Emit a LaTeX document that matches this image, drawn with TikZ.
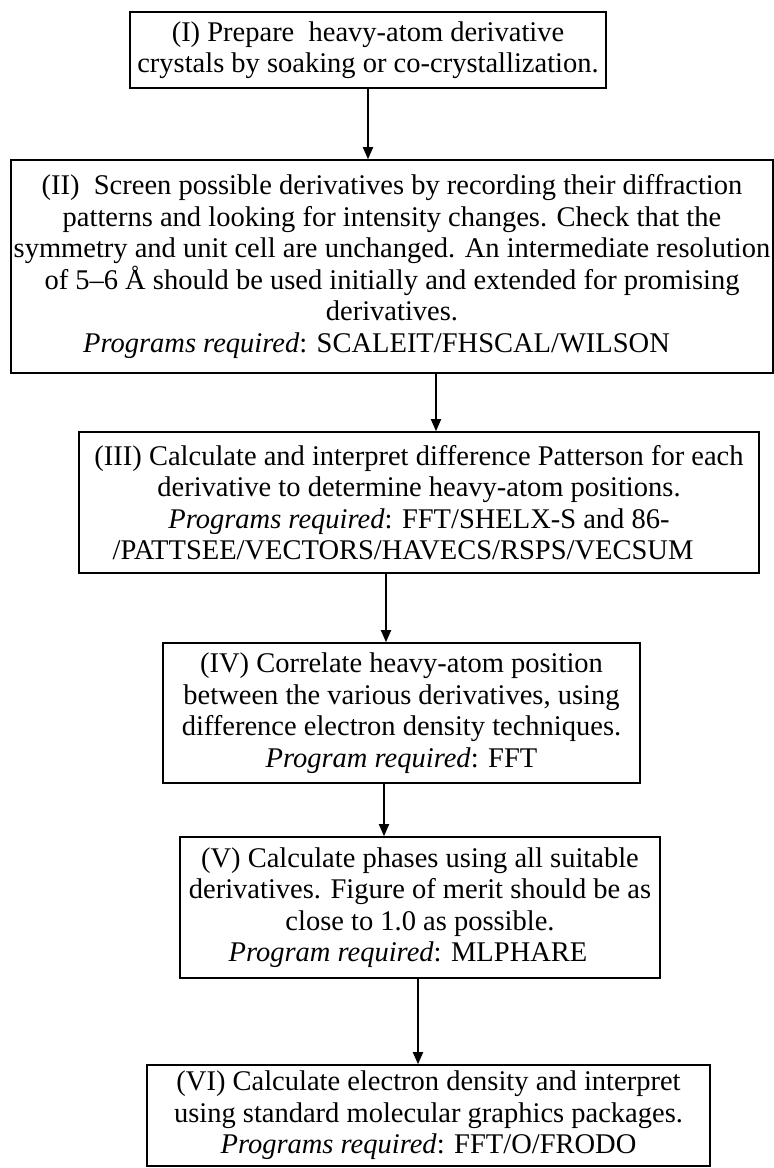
\documentclass[tikz,border=0pt]{standalone}
\usepackage{fontspec}
\setmainfont{Liberation Serif}
\usetikzlibrary{arrows.meta}
\begin{document}
\begin{tikzpicture}[x=1pt,y=1pt,
  box/.style={draw, line width=1.6pt, align=center, inner sep=0pt,
    font=\fontsize{28.5}{31.5}\selectfont},
  arr/.style={line width=1.8pt, -{Triangle[length=12pt,width=10pt]}}]
\useasboundingbox (0,0) rectangle (774,1168);

\node[box, minimum width=476pt, minimum height=76pt] (b1) at (368,1118)
  {(I) Prepare\ \ heavy-atom derivative\\crystals by soaking or co-crystallization.};

\node[box, minimum width=762pt, minimum height=213pt] (b2) at (392,901.5)
  {(II)\ \ Screen possible derivatives by recording their diffraction\\
   patterns and looking for intensity changes. Check that the\\
   symmetry and unit cell are unchanged. An intermediate resolution\\
   of 5–6 Å should be used initially and extended for promising\\
   derivatives.\\
   \textit{Programs required}: SCALEIT/FHSCAL/WILSON\rule{31pt}{0pt}};

\node[box, minimum width=680pt, minimum height=141pt] (b3) at (419,665.5)
  {(III) Calculate and interpret difference Patterson for each\\
   derivative to determine heavy-atom positions.\\
   \textit{Programs required}: FFT/SHELX-S and 86-\\
   /PATTSEE/VECTORS/HAVECS/RSPS/VECSUM\rule{32pt}{0pt}};

\node[box, minimum width=477pt, minimum height=140pt] (b4) at (401.5,455)
  {(IV) Correlate heavy-atom position\\
   between the various derivatives, using\\
   difference electron density techniques.\\
   \textit{Program required}: FFT};

\node[box, minimum width=480pt, minimum height=141pt] (b5) at (420,260.5)
  {(V) Calculate phases using all suitable\\
   derivatives. Figure of merit should be as\\
   close to 1.0 as possible.\\
   \textit{Program required}: MLPHARE\rule{24pt}{0pt}};

\node[box, minimum width=563pt, minimum height=101pt] (b6) at (428.5,52.5)
  {(VI) Calculate electron density and interpret\\
   using standard molecular graphics packages.\\
   \textit{Programs required}: FFT/O/FRODO};

\coordinate (a12) at (368,0);
\coordinate (a23) at (436,0);
\coordinate (a34) at (386,0);
\coordinate (a45) at (384,0);
\coordinate (a56) at (418,0);

\draw[arr] (b1.south -| a12) -- (b2.north -| a12);
\draw[arr] (b2.south -| a23) -- (b3.north -| a23);
\draw[arr] (b3.south -| a34) -- (b4.north -| a34);
\draw[arr] (b4.south -| a45) -- (b5.north -| a45);
\draw[arr] (b5.south -| a56) -- (b6.north -| a56);
\end{tikzpicture}
\end{document}
